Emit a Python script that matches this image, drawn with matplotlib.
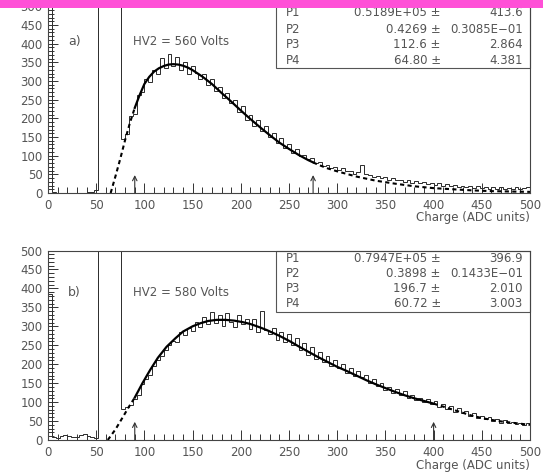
import numpy as np
import matplotlib
matplotlib.use("Agg")
import matplotlib.pyplot as plt
from matplotlib.patches import Rectangle

# histogram counts, 4 ADC wide bins from 0 to 500
# (values above 500 are off scale, clipped by the axis)
counts_a = [
    2000,
    4, 1, 1, 0, 1, 0, 1, 0, 1, 2, 2, 8,
    2000, 2000, 2000, 2000, 2000, 2000,
    145,
    158, 205, 212, 262, 270, 305, 298, 330, 318, 362,
    335, 372, 340, 365, 330, 352, 318, 340, 322, 305,
    318, 290, 305, 272, 285, 255, 268, 240, 250, 218,
    232, 195, 210, 180, 196, 165, 180, 150, 162, 135,
    148, 120, 132, 108, 118, 98, 102, 92, 95, 80,
    84, 72, 76, 66, 70, 62, 66, 58, 60, 52,
    56, 75, 50, 48, 44, 46, 40, 42, 36, 40,
    34, 36, 30, 34, 28, 32, 26, 30, 24, 28,
    22, 26, 20, 24, 18, 22, 17, 20, 16, 19,
    14, 18, 14, 16, 12, 16, 12, 15, 11, 14,
    12, 15, 11, 14, 16,
]
counts_b = [
    385,
    8, 6, 10, 14, 10, 8, 9, 13, 15, 10, 8, 5,
    2000, 2000, 2000, 2000, 2000, 2000,
    82,
    88, 92, 108, 120, 148, 160, 172, 195, 210, 222,
    238, 250, 262, 258, 285, 278, 296, 288, 312, 298,
    325, 305, 338, 310, 330, 300, 335, 312, 298, 330,
    305, 320, 292, 318, 285, 340, 290, 280, 295, 265,
    285, 258, 280, 250, 270, 238, 255, 225, 245, 215,
    232, 205, 222, 195, 210, 190, 200, 178, 190, 170,
    182, 165, 172, 150, 160, 142, 150, 132, 140, 125,
    135, 120, 128, 112, 120, 106, 112, 100, 108, 95,
    102, 88, 96, 82, 90, 75, 84, 70, 76, 64,
    70, 58, 64, 55, 60, 50, 56, 46, 52, 44,
    48, 42, 46, 40, 45,
]
bin_width = 4
assert len(counts_a) == 125 and len(counts_b) == 125

# fitted curves
fit_x_a = [65, 70, 75, 80, 85, 90, 95, 100, 105, 110, 115, 120, 125, 130, 135,
           140, 145, 150, 160, 170, 180, 190, 200, 210, 220, 230, 240, 250, 260,
           270, 275, 280, 290, 300, 310, 320, 340, 360, 380, 400, 420, 440, 460,
           480, 500]
fit_y_a = [0, 45, 92, 142, 188, 228, 262, 292, 311, 325, 334, 340, 344, 345, 344,
           341, 336, 329, 312, 292, 268, 245, 221, 198, 176, 155, 135, 118, 102,
           88, 82, 76, 66, 58, 51, 44, 33, 25, 18, 13, 10, 7, 5,
           4, 3]
fit_x_b = [62, 70, 78, 84, 90, 98, 106, 114, 123, 132, 140, 150, 158, 166, 175,
           184, 193, 202, 210, 220, 227, 240, 252, 260, 270, 280, 290, 300, 310,
           320, 330, 340, 350, 360, 370, 380, 390, 400, 410, 420, 430, 440, 450,
           460, 470, 480, 490, 500]
fit_y_b = [0, 28, 62, 88, 112, 150, 185, 217, 246, 268, 286, 300, 308, 314, 317,
           317, 315, 311, 306, 297, 290, 275, 259, 247, 233, 219, 206, 193, 182,
           170, 158, 147, 137, 127, 118, 110, 103, 96, 88, 80, 72, 64, 58,
           53, 49, 46, 43, 40]
fit_range_a = (90, 275)
fit_range_b = (90, 400)

labels = ["a)", "b)"]
voltages = ["HV2 = 560 Volts", "HV2 = 580 Volts"]
params_a = [("P1", "0.5189E+05 \u00b1", "413.6"),
            ("P2", "0.4269 \u00b1", "0.3085E\u221201"),
            ("P3", "112.6 \u00b1", "2.864"),
            ("P4", "64.80 \u00b1", "4.381")]
params_b = [("P1", "0.7947E+05 \u00b1", "396.9"),
            ("P2", "0.3898 \u00b1", "0.1433E\u221201"),
            ("P3", "196.7 \u00b1", "2.010"),
            ("P4", "60.72 \u00b1", "3.003")]

plt.rcParams['font.family'] = ['DejaVu Sans']
txt_col = '#555555'
line_col = '#2a2a2a'

fig = plt.figure(figsize=(5.43, 4.72), dpi=100)
ax_a = fig.add_axes([48/543, (472-193)/472, 482/543, 186.7/472])
ax_b = fig.add_axes([48/543, (472-440)/472, 482/543, 189.5/472])

panels = [
    (ax_a, counts_a, fit_x_a, fit_y_a, fit_range_a, params_a,
     [0.969, 0.878, 0.793, 0.712], 0.670, 0.809),
    (ax_b, counts_b, fit_x_b, fit_y_b, fit_range_b, params_b,
     [0.960, 0.881, 0.797, 0.718], 0.675, 0.776),
]

for i, (ax, counts, fx, fy, frange, params, rows, box_bot, lab_y) in enumerate(panels):
    edges = np.arange(len(counts) + 1) * bin_width
    ax.stairs(counts, edges, color=line_col, lw=0.7)

    fx = np.array(fx)
    fy = np.array(fy)
    inside = (fx >= frange[0]) & (fx <= frange[1])
    before = fx <= frange[0]
    after = fx >= frange[1]
    ax.plot(fx[inside], fy[inside], color='black', lw=1.6)
    ax.plot(fx[before], fy[before], color='black', lw=1.5, ls=(0, (2, 1.6)))
    ax.plot(fx[after], fy[after], color='black', lw=1.5, ls=(0, (2, 1.6)))

    for xa in frange:
        ax.annotate('', xy=(xa, 48), xytext=(xa, 0),
                    arrowprops=dict(arrowstyle='->', color='#333333', lw=0.8,
                                    mutation_scale=8, shrinkA=0, shrinkB=0))

    ax.set_xlim(0, 500)
    ax.set_ylim(0, 500)
    ax.set_xticks(np.arange(0, 501, 50))
    ax.set_yticks(np.arange(0, 501, 50))
    ax.set_xticks(np.arange(0, 501, 10), minor=True)
    ax.set_yticks(np.arange(0, 501, 10), minor=True)
    ax.tick_params(which='both', direction='in', colors='#333333',
                   labelcolor=txt_col, labelsize=8.5, width=0.7)
    ax.tick_params(which='major', length=7, pad=4)
    ax.tick_params(which='minor', length=4)
    for s in ax.spines.values():
        s.set_color('#444444')
        s.set_linewidth(0.8)

    # fit results box
    ax.add_patch(Rectangle((0.473, box_bot), 0.527, 1 - box_bot,
                           transform=ax.transAxes, fill=False,
                           edgecolor='#555555', lw=0.8, clip_on=False))
    for (name, val, err), yy in zip(params, rows):
        ax.text(0.494, yy, name, transform=ax.transAxes, fontsize=8.5,
                color=txt_col, va='center', ha='left')
        ax.text(0.815, yy, val, transform=ax.transAxes, fontsize=8.5,
                color=txt_col, va='center', ha='right')
        ax.text(0.985, yy, err, transform=ax.transAxes, fontsize=8.5,
                color=txt_col, va='center', ha='right')

    ax.text(0.041, lab_y, labels[i], transform=ax.transAxes, fontsize=9,
            color=txt_col, va='center')
    ax.text(0.176, lab_y, voltages[i], transform=ax.transAxes, fontsize=8.5,
            color=txt_col, va='center')

fig.text(0.975, (472-218)/472, 'Charge (ADC units)', fontsize=8.5,
         color=txt_col, ha='right', va='center')
fig.text(0.975, (472-465)/472, 'Charge (ADC units)', fontsize=8.5,
         color=txt_col, ha='right', va='center')

# pink strip along the top edge
fig.patches.append(Rectangle((0, 1 - 8/472), 1, 8/472, transform=fig.transFigure,
                             facecolor='#ff50d7', edgecolor='none', zorder=10))

fig.savefig('out.png', dpi=100)
